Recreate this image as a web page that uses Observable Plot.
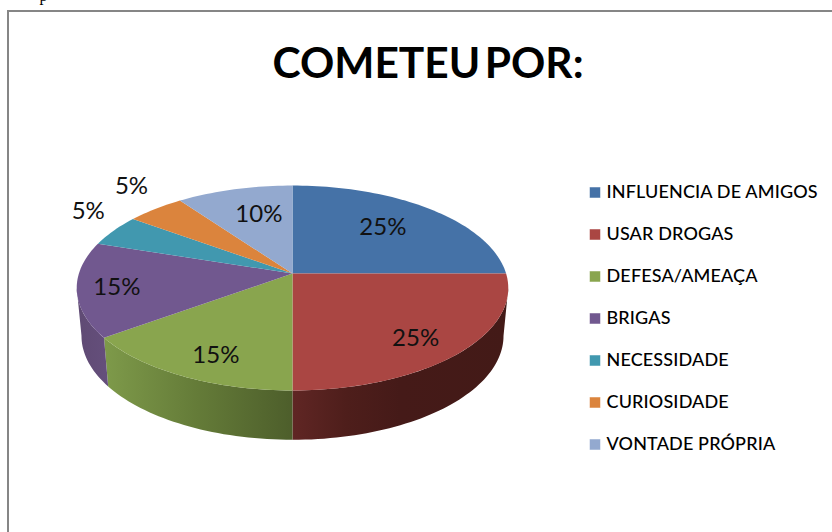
<!DOCTYPE html>
<html><head><meta charset="utf-8">
<style>html,body{margin:0;padding:0;background:#fff}svg{display:block}.ttl{word-spacing:-6px}.leg{letter-spacing:.15px}</style>
<script src="https://cdn.jsdelivr.net/npm/d3@7"></script>
<script src="https://cdn.jsdelivr.net/npm/@observablehq/plot@0.6"></script>
</head><body><div id="c"></div>
<script>
const categories = ["INFLUENCIA DE AMIGOS","USAR DROGAS","DEFESA/AMEAÇA","BRIGAS","NECESSIDADE","CURIOSIDADE","VONTADE PRÓPRIA"];
const shares = [25,25,15,15,5,5,10];
const colors = ["#4572A7","#AA4643","#89A54E","#71588F","#4198AF","#DB843D","#93A9CF"];
const labelRadius = [.667,.794,.80,.818,1.25,1.31,.664];
const labelTurn = [-2.3,3.3,-3.3,-.6,6,4,3];

// perspective of the disc: top face and bottom rim
const top_ = {cx:292, cy:273, b:213.6, a:100.4, k:.1415};
const low = {cx:292, cy:320.6, b:208.9, a:101.9, k:.1415};
const project = (deg, r, p) => {
  const t = deg*Math.PI/180, u = r*Math.sin(t), v = -r*Math.cos(t), w = 1 - p.k*v;
  return {x:p.cx + p.b*u/w, y:p.cy + p.a*v/w};
};
const total = d3.sum(shares);
let acc = 0;
const slices = categories.map((name,i) => {
  const start = acc/total*360; acc += shares[i]; const end = acc/total*360;
  return {name, share:shares[i], start, end, mid:(start+end)/2, i};
});
const arc = (s,e,p) => { const n = Math.max(2,Math.ceil(Math.abs(e-s)/1.5));
  return d3.range(n+1).map(j => project(s+(e-s)*j/n,1,p)); };
const faces = slices.flatMap(d => [{x:top_.cx,y:top_.cy,name:d.name},
  ...arc(d.start,d.end,top_).map(q => ({...q,name:d.name}))]);
const tangent = Math.acos(-top_.k)*180/Math.PI;
const wall = (s,e) => [...arc(s,e,top_),...arc(e,s,low)];
const bySlice = Object.fromEntries(slices.map(d => [d.name,d]));
const red = bySlice["USAR DROGAS"], green = bySlice["DEFESA/AMEAÇA"], purple = bySlice["BRIGAS"];
const labels = slices.map((d,i) => ({...project(d.mid+labelTurn[i],labelRadius[i],top_),text:d.share+"%"}));
const legend = categories.map((name,i) => ({name,y:192+42*i}));

const gradient = (id,stops) => () => {
  const ns = "http://www.w3.org/2000/svg";
  const g = document.createElementNS(ns,"linearGradient"); g.setAttribute("id",id);
  stops.forEach(([o,c]) => { const s = document.createElementNS(ns,"stop");
    s.setAttribute("offset",o); s.setAttribute("stop-color",c); g.appendChild(s); });
  const defs = document.createElementNS(ns,"defs"); defs.appendChild(g); return defs;
};
const wallMark = (pts,id) => Plot.line(pts,{x:"x",y:"y",fill:`url(#${id})`,stroke:"none"});

const chart = Plot.plot({
  width:832, height:532, margin:0,
  style:{background:"#fff",color:"#000"},
  x:{domain:[0,832],range:[0,832],axis:null},
  y:{domain:[0,532],range:[0,532],axis:null},
  color:{domain:categories,range:colors},
  marks:[
    gradient("gRed",[[0,"#602624"],[.25,"#4e1e1b"],[.5,"#451a18"],[1,"#431a17"]]),
    gradient("gGreen",[[0,"#7e9a4a"],[.5,"#647b38"],[1,"#4d5e2b"]]),
    gradient("gPurple",[[0,"#5f4a73"],[1,"#654f7c"]]),
    wallMark(wall(tangent,red.end),"gRed"),
    wallMark(wall(green.start,green.end),"gGreen"),
    wallMark(wall(purple.start,360-tangent),"gPurple"),
    Plot.line(faces,{x:"x",y:"y",z:"name",fill:"name",stroke:"none"}),
    Plot.text(labels,{x:"x",y:"y",text:"text",fontFamily:"Lato",fontSize:24,fill:"#111"}),
    Plot.text(["COMETEU POR:"],{x:[427.5],y:[63.5],text:d=>d,fontFamily:"Lato",fontWeight:700,fontSize:42.5,fill:"#000",className:"ttl"}),
    Plot.dot(legend,{x:()=>594.5,y:"y",symbol:"square",r:6.2,fill:"name",stroke:"#fff",strokeWidth:.5}),
    Plot.text(legend,{x:()=>606,y:"y",text:"name",textAnchor:"start",fontFamily:"Lato",fontWeight:500,fontSize:18,fill:"#000",className:"leg"}),
    Plot.ruleX([7.5],{y1:10,y2:532,stroke:"#868686",strokeWidth:2}),
    Plot.ruleY([10.5],{x1:7,x2:832,stroke:"#868686",strokeWidth:2}),
    Plot.text(["p"],{x:[43],y:[-5],text:d=>d,fontFamily:"Liberation Serif",fontSize:16,fill:"#000"})
  ]
});
document.getElementById("c").appendChild(chart);
</script></body></html>
